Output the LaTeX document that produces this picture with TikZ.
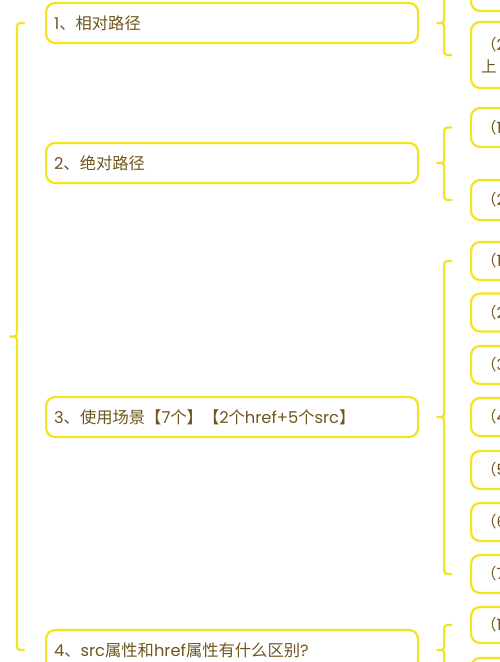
\documentclass[tikz,border=0pt]{standalone}
\usepackage{fontspec}
\setmainfont{Poppins}
\newfontfamily\cjk{Noto Sans CJK SC}
\usetikzlibrary{calc}
\definecolor{ybord}{RGB}{242,228,30}
\definecolor{txt}{RGB}{112,86,30}
\newcommand\mybrace[3]{%
  \draw[brc] let \p1=(#1), \p2=(#2), \p3=(#3) in
    ({\x1+32pt},{\y2}) .. controls ({\x1+25pt},{\y2}) .. ({\x1+25pt},{\y2-7pt})
    -- ({\x1+25pt},{\y1+7pt}) .. controls ({\x1+25pt},{\y1}) .. ({\x1+18pt},{\y1})
    .. controls ({\x1+25pt},{\y1}) .. ({\x1+25pt},{\y1-7pt})
    -- ({\x1+25pt},{\y3+7pt}) .. controls ({\x1+25pt},{\y3}) .. ({\x1+32pt},{\y3});}
\begin{document}
\begin{tikzpicture}[x=1pt,y=-1pt,
  pbox/.style={draw=ybord, line width=2.2pt, rounded corners=9pt, fill=white,
    text=txt, font=\fontsize{16.3}{19}\selectfont, anchor=west, align=left,
    inner xsep=8pt, inner ysep=0pt, text width=356pt, minimum height=40pt},
  cbox/.style={draw=ybord, line width=2.2pt, rounded corners=9pt, fill=white,
    text=txt, font=\fontsize{15.5}{22}\selectfont, anchor=west, align=left,
    inner xsep=10pt, inner ysep=0pt, text width=180pt, minimum height=38pt},
  brc/.style={draw=ybord, line width=2.2pt, line cap=round, line join=round}]
\useasboundingbox (0,0) rectangle (500,662);
\fill[white] (0,0) rectangle (500,662);
\clip (0,0) rectangle (500,662);
\coordinate (root) at (-8,336.5);
% parents
\node[pbox] (p1) at (45,23) {1{\cjk 、相对路径}};
\node[pbox] (p2) at (45,163) {2{\cjk 、绝对路径}};
\node[pbox] (p3) at (45,417) {3{\cjk 、使用场景【}7{\cjk 个】【}2{\cjk 个}href+5{\cjk 个}src{\cjk 】}};
\node[pbox] (p4) at (45,650) {4{\cjk 、}src{\cjk 属性和}href{\cjk 属性有什么区别}?};
% children group 1
\node[cbox, minimum height=36pt] (c11) at (470,-7) {};
\node[cbox, minimum height=66pt] (c12) at (470,55) {{\cjk （}2\\{\cjk 上}};
% group 2
\node[cbox, minimum height=39pt] (c21) at (470,127.5) {{\cjk （}1};
\node[cbox, minimum height=40pt] (c22) at (470,200) {{\cjk （}2};
% group 3
\node[cbox] (c31) at (470,261) {{\cjk （}1};
\node[cbox] (c32) at (470,312.5) {{\cjk （}2};
\node[cbox] (c33) at (470,365) {{\cjk （}3};
\node[cbox] (c34) at (470,417) {{\cjk （}4};
\node[cbox] (c35) at (470,470) {{\cjk （}5};
\node[cbox] (c36) at (470,522) {{\cjk （}6};
\node[cbox] (c37) at (470,574) {{\cjk （}7};
% group 4
\node[cbox, minimum height=36pt] (c41) at (470,625) {{\cjk （}1};
\node[cbox] (c42) at (470,677) {};
% braces
\mybrace{root}{p1.west}{p4.west}
\mybrace{p1.east}{c11.west}{c12.west}
\mybrace{p2.east}{c21.west}{c22.west}
\mybrace{p3.east}{c31.west}{c37.west}
\mybrace{p4.east}{c41.west}{c42.west}
\end{tikzpicture}
\end{document}
